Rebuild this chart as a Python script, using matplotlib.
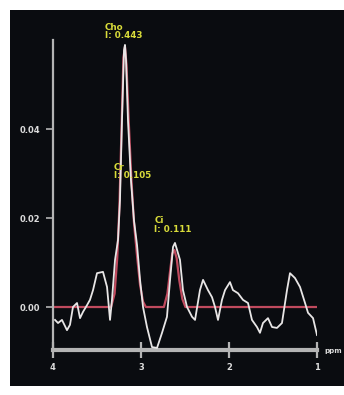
import matplotlib
matplotlib.use("Agg")
import matplotlib.pyplot as plt
from matplotlib.patches import Rectangle

# Measured spectrum (chemical shift in ppm, signal amplitude)
spec_ppm = [3.977, 3.943, 3.898, 3.841, 3.807, 3.773, 3.727, 3.693, 3.659, 3.614,
            3.580, 3.545, 3.500, 3.432, 3.386, 3.352, 3.330, 3.295, 3.261, 3.239,
            3.216, 3.193, 3.182, 3.170, 3.148, 3.114, 3.080, 3.045, 3.011, 2.977,
            2.932, 2.875, 2.818, 2.761, 2.705, 2.670, 2.636, 2.614, 2.557, 2.523,
            2.477, 2.420, 2.386, 2.330, 2.295, 2.239, 2.193, 2.159, 2.125, 2.080,
            2.045, 1.989, 1.955, 1.898, 1.841, 1.784, 1.739, 1.682, 1.648, 1.614,
            1.557, 1.511, 1.455, 1.398, 1.341, 1.307, 1.250, 1.193, 1.136, 1.102,
            1.045, 1.000]
spec_val = [-0.0029, -0.0036, -0.0029, -0.0052, -0.0040, 0.0000, 0.0009, -0.0025, -0.0011, 0.0004,
            0.0016, 0.0038, 0.0076, 0.0079, 0.0045, -0.0029, 0.0016, 0.0106, 0.0151, 0.0240,
            0.0420, 0.0577, 0.0589, 0.0555, 0.0420, 0.0285, 0.0195, 0.0139, 0.0061, 0.0000,
            -0.0045, -0.0090, -0.0092, -0.0058, -0.0022, 0.0061, 0.0135, 0.0144, 0.0106, 0.0038,
            0.0000, -0.0022, -0.0029, 0.0038, 0.0061, 0.0038, 0.0022, 0.0000, -0.0029, 0.0016,
            0.0038, 0.0056, 0.0038, 0.0031, 0.0016, 0.0009, -0.0029, -0.0045, -0.0058, -0.0036,
            -0.0025, -0.0045, -0.0047, -0.0036, 0.0038, 0.0076, 0.0065, 0.0045, 0.0009, -0.0013,
            -0.0025, -0.0063]

# Fitted model curve
fit_ppm = [4.0, 3.340, 3.300, 3.270, 3.245, 3.220, 3.200, 3.182, 3.165, 3.140,
           3.110, 3.080, 3.045, 3.011, 2.977, 2.945, 2.740, 2.700, 2.670, 2.645,
           2.620, 2.595, 2.565, 2.530, 2.495, 1.0]
fit_val = [0.0, 0.0, 0.0030, 0.0110, 0.0230, 0.0410, 0.0560, 0.0585, 0.0545, 0.0420,
           0.0290, 0.0190, 0.0115, 0.0050, 0.0012, 0.0, 0.0, 0.0030, 0.0080, 0.0120,
           0.0128, 0.0110, 0.0060, 0.0018, 0.0, 0.0]

# Peak annotations: name, integral, label anchor (ppm, amplitude)
peak_names = ["Cho", "Cr", "Ci"]
peak_integrals = [0.443, 0.105, 0.111]
peak_label_ppm = [3.41, 3.31, 2.85]
peak_label_val = [0.0600, 0.0285, 0.0165]

x_ticks = [4, 3, 2, 1]
y_ticks = [0.00, 0.02, 0.04]
y_tick_labels = ["0.00", "0.02", "0.04"]

W, H = 344, 395
fig = plt.figure(figsize=(W / 100, H / 100), dpi=100, facecolor="white")

# Dark display panel behind the plot
fig.patches.append(Rectangle((10 / W, (H - 386) / H), (W - 10) / W, 376 / H,
                             transform=fig.transFigure, facecolor="#0a0c10",
                             edgecolor="none", zorder=-10))

ax = fig.add_axes([53 / W, (H - 350) / H, (317 - 53) / W, 310 / H])
ax.set_zorder(5)
ax.set_facecolor("none")
ax.patch.set_alpha(0.0)
ax.set_xlim(4, 1)
ax.set_ylim(-0.00966, 0.0600)

ax.plot(fit_ppm, fit_val, color="#c04a5e", lw=1.6, zorder=2)
ax.plot(spec_ppm, spec_val, color="#e8e6e6", lw=1.3, zorder=3)

for name, integ, px, py in zip(peak_names, peak_integrals, peak_label_ppm, peak_label_val):
    ax.text(px, py, f"{name}\nI: {integ:.3f}", color="#d9dc3a", fontsize=6.3,
            fontweight="bold", ha="left", va="bottom", linespacing=0.9, zorder=4,
            clip_on=False)

axis_col = "#b4b4b4"
for side in ("top", "right"):
    ax.spines[side].set_visible(False)
ax.spines["left"].set_color(axis_col)
ax.spines["left"].set_linewidth(1.6)
ax.spines["bottom"].set_color(axis_col)
ax.spines["bottom"].set_linewidth(3.0)

ax.set_xticks(x_ticks)
ax.set_xticklabels([str(t) for t in x_ticks])
ax.tick_params(axis="x", direction="inout", length=12, width=1.6, colors=axis_col,
               labelsize=6, pad=3, labelcolor="#dcdcdc")
ax.set_yticks(y_ticks)
ax.set_yticklabels(y_tick_labels)
ax.tick_params(axis="y", direction="out", length=5, width=1.2, colors=axis_col,
               labelsize=6, pad=4, labelcolor="#dcdcdc")
for lbl in ax.get_xticklabels() + ax.get_yticklabels():
    lbl.set_fontweight("bold")

fig.text(342 / W, 1 - 351 / H, "ppm", color="#dcdcdc", fontsize=5.0,
         fontweight="bold", ha="right", va="center")

fig.savefig("out.png", dpi=100, facecolor="white")
